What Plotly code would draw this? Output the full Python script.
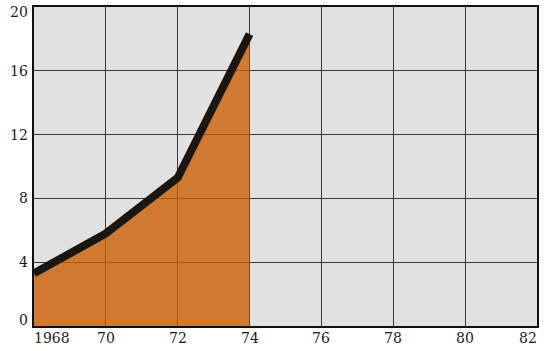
import plotly.graph_objects as go

# values
years = [1968, 1970, 1972, 1974]
values = [3.3, 5.8, 9.3, 18.3]
x_ticks = [1968, 70, 72, 74, 76, 78, 80, 82]
y_ticks = [0, 4, 8, 12, 16, 20]

# translucent so the grid shows through the orange like in the print
FILL = 'rgba(202,94,0,0.79)'
LINE = '#1c1611'
GRID = '#3a3a3a'
BG = '#e1e1e1'
FONT = dict(family='DejaVu Serif', size=14, color='#1a1a1a')

tick_years = [t if t > 1900 else 1900 + t for t in x_ticks]

fig = go.Figure()

# orange area
fig.add_trace(go.Scatter(
    x=years, y=values, mode='lines', fill='tozeroy',
    fillcolor=FILL, line=dict(width=0, color=FILL),
    hoverinfo='skip', showlegend=False,
))
# thick dark outline on top
fig.add_trace(go.Scatter(
    x=years, y=values, mode='lines',
    line=dict(width=8, color=LINE),
    showlegend=False,
))

# x tick labels: first one hangs right, last one hangs left
for i, (yr, lab) in enumerate(zip(tick_years, x_ticks)):
    anchor = 'left' if i == 0 else ('right' if i == len(x_ticks) - 1 else 'center')
    fig.add_annotation(
        x=yr, y=0, xref='x', yref='y', yshift=-12, xshift=-2 if i == 0 else 2 if anchor == 'right' else 0,
        text=str(lab), showarrow=False, xanchor=anchor, yanchor='middle',
        font=FONT,
    )

# y tick labels, end ones nudged inside like the print
for v in y_ticks:
    shift = -5 if v == y_ticks[-1] else (6 if v == y_ticks[0] else 0)
    fig.add_annotation(
        x=0, y=v, xref='paper', yref='y', xshift=-4, yshift=shift,
        text=str(v), showarrow=False, xanchor='right', yanchor='middle',
        font=FONT,
    )

fig.update_layout(
    width=552, height=351,
    paper_bgcolor='white', plot_bgcolor=BG,
    margin=dict(l=34, r=15, t=5, b=25),
    font=FONT,
    xaxis=dict(
        range=[1968, 1982], tickvals=tick_years, showticklabels=False,
        showgrid=True, gridcolor=GRID, gridwidth=1, zeroline=False,
        showline=True, linecolor='#111', linewidth=2, mirror=True,
        ticks='',
    ),
    yaxis=dict(
        range=[0, 20], tickvals=y_ticks, showticklabels=False,
        showgrid=True, gridcolor=GRID, gridwidth=1, zeroline=False,
        showline=True, linecolor='#111', linewidth=2, mirror=True,
        ticks='',
    ),
)

fig.write_html("out.html", config={'displayModeBar': False},
               post_script="document.body.style.margin='0';")
